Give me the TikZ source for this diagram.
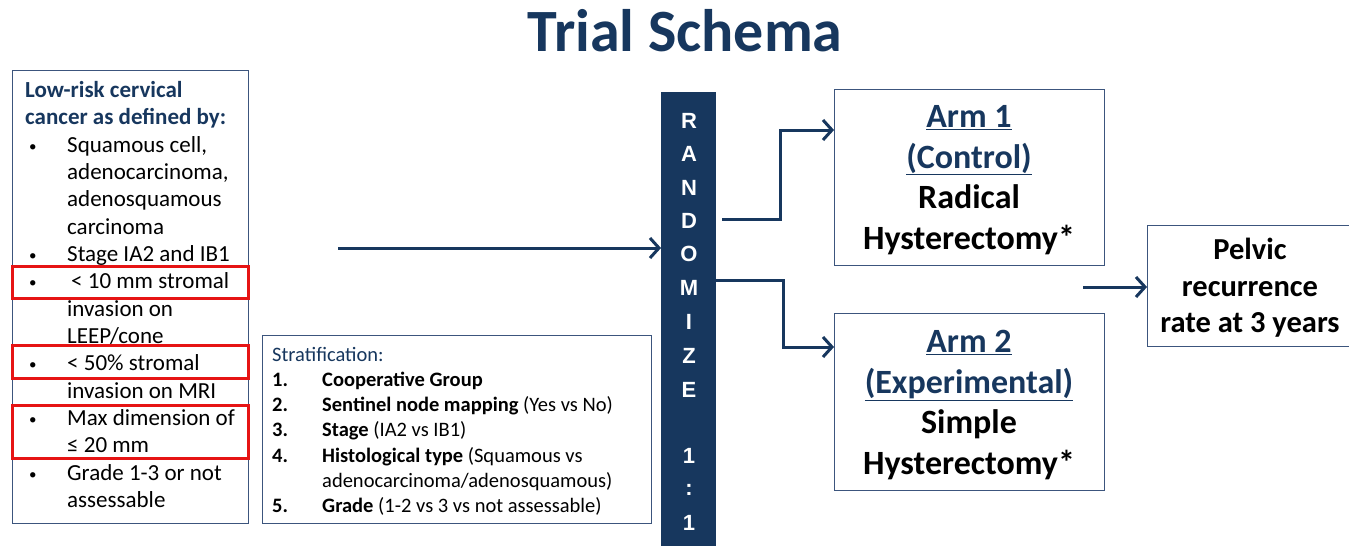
\documentclass[tikz,border=0pt]{standalone}
\usepackage{fontspec}
\setmainfont{Carlito}
\newfontfamily\arialfont{Liberation Sans}
\usetikzlibrary{arrows.meta}
\definecolor{navy}{RGB}{23,55,94}
\definecolor{boxline}{RGB}{60,85,125}
\definecolor{redline}{RGB}{230,20,20}
\newcommand{\bl}{\makebox[42pt][l]{\hspace*{4pt}\raisebox{1pt}{\fontsize{15}{15}\selectfont•}}}
\newcommand{\ind}{\hspace*{42pt}}
\tikzset{
  plainbox/.style={draw=boxline, line width=1.3pt, inner sep=0pt},
  redbox/.style={draw=redline, line width=3pt},
  flow/.style={draw=navy, line width=3pt, -{Straight Barb[length=9pt,width=20pt,line width=3pt]}},
  letter/.style={text=white, font=\arialfont\bfseries\fontsize{22}{22}\selectfont},
}
\begin{document}
\begin{tikzpicture}[x=1pt,y=-1pt]
\useasboundingbox (0,0) rectangle (1349,546);
\fill[white] (0,0) rectangle (1349,546);
% title
\node[font=\bfseries\fontsize{60}{60}\selectfont, text=navy] (title) at (685,31) {Trial Schema};
% left box
\node[plainbox, minimum width=236pt, minimum height=453pt, anchor=north west] (crit) at (12,70) {};
\node[anchor=north west, inner sep=0pt, align=left, font=\fontsize{23}{27.35}\selectfont] (crittext) at (25,81) {%
{\bfseries\color{navy}Low-risk cervical}\\
{\bfseries\color{navy}cancer as defined by:}\\
\bl Squamous cell,\\
\ind adenocarcinoma,\\
\ind adenosquamous\\
\ind carcinoma\\
\bl Stage IA2 and IB1\\
\bl\hspace*{4pt}< 10 mm stromal\\
\ind invasion on\\
\ind LEEP/cone\\
\bl < 50\% stromal\\
\ind invasion on MRI\\
\bl Max dimension of\\
\ind ≤ 20 mm\\
\bl Grade 1-3 or not\\
\ind assessable};
\draw[redbox] (12,266) rectangle (248,298);
\draw[redbox] (12,345) rectangle (248,378);
\draw[redbox] (12,405) rectangle (248,458);
% stratification
\node[plainbox, minimum width=389pt, minimum height=188pt, anchor=north west] (strat) at (262,335) {};
\node[anchor=north west, inner sep=0pt, align=left, font=\fontsize{20.5}{25.2}\selectfont] (strattext) at (272,347) {%
{\color{navy}Stratification:}\\
\makebox[50pt][l]{\bfseries 1.}\textbf{Cooperative Group}\\
\makebox[50pt][l]{\bfseries 2.}\textbf{Sentinel node mapping} (Yes vs No)\\
\makebox[50pt][l]{\bfseries 3.}\textbf{Stage} (IA2 vs IB1)\\
\makebox[50pt][l]{\bfseries 4.}\textbf{Histological type} (Squamous vs\\
\hspace*{50pt}adenocarcinoma/adenosquamous)\\
\makebox[50pt][l]{\bfseries 5.}\textbf{Grade} (1-2 vs 3 vs not assessable)};
% randomize bar
\node[fill=navy, minimum width=55pt, minimum height=460pt, anchor=north west, inner sep=0pt] (rand) at (661,92) {};
\foreach \ch/\yy [count=\i] in {R/121,A/154,N/188,D/221,O/254,M/288,I/322,Z/356,E/390,1/456,:/490,1/523}
  \node[letter] (l\i) at (689,\yy) {\ch};
% entry arrow
\coordinate (start) at (338,248);
\draw[flow] (start) -- (rand.west |- start);
% arms
\node[plainbox, minimum width=270pt, minimum height=176pt, anchor=north west] (arm1) at (834,89) {};
\node[align=center, inner sep=0pt, font=\bfseries\fontsize{34}{40.7}\selectfont] (arm1text) at (969,180) {%
{\color{navy}\underline{Arm 1}}\\
{\color{navy}\underline{(Control)}}\\
Radical\\
Hysterectomy*};
\node[plainbox, minimum width=270pt, minimum height=177pt, anchor=north west] (arm2) at (834,313) {};
\node[align=center, inner sep=0pt, font=\bfseries\fontsize{34}{40.7}\selectfont] (arm2text) at (969,405) {%
{\color{navy}\underline{Arm 2}}\\
{\color{navy}\underline{(Experimental)}}\\
Simple\\
Hysterectomy*};
\coordinate (a1s) at (722,219);
\coordinate (a2s) at (716,280);
\draw[flow] (a1s) -- (780,219) -- (780,130) -- (arm1.west |- 0,130);
\draw[flow] (a2s) -- (783,280) -- (783,347) -- (arm2.west |- 0,347);
% outcome
\node[plainbox, minimum width=204pt, minimum height=121pt, anchor=north west] (outc) at (1147,225) {};
\node[align=center, inner sep=0pt, font=\bfseries\fontsize{30.5}{36.5}\selectfont] (outtext) at (1250,288) {%
Pelvic\\
recurrence\\
rate at 3 years};
\coordinate (os) at (1083,287);
\draw[flow] (os) -- (outc.west |- os);
\end{tikzpicture}
\end{document}
